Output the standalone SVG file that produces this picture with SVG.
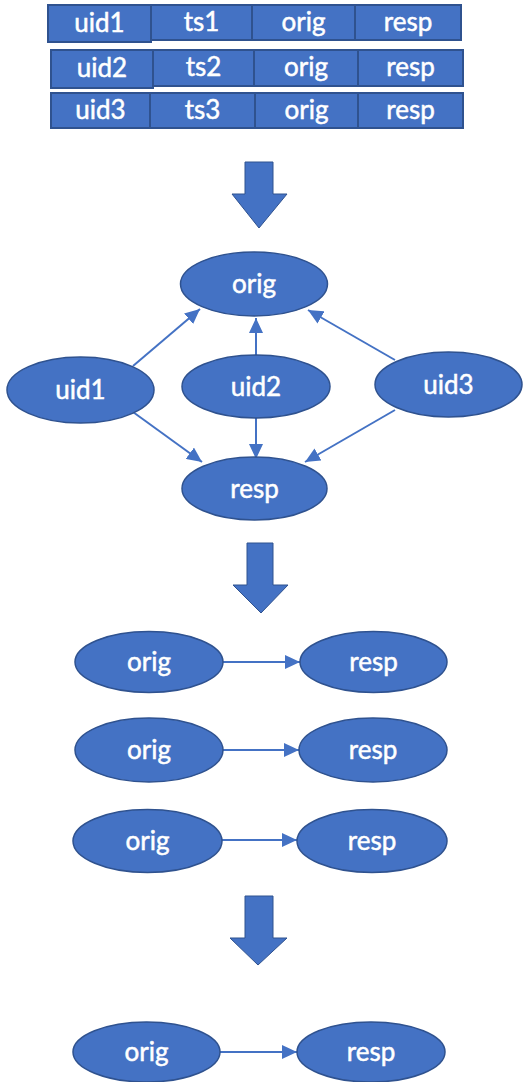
<svg xmlns="http://www.w3.org/2000/svg" width="523" height="1082" viewBox="0 0 523 1082">
<style>
.n{fill:#4472C4;stroke:#2F528F;stroke-width:1.5}
.c{fill:#4472C4;stroke:#2F528F;stroke-width:2}
.t{font-family:Lato,"Liberation Sans",sans-serif;font-size:26px;fill:#fff;stroke:#fff;stroke-width:0.5;text-anchor:middle}
.e{stroke:#4472C4;stroke-width:2;fill:none;marker-end:url(#ah)}
.big{fill:#4472C4;stroke:#2F528F;stroke-width:1}
</style>
<defs>
<marker id="ah" viewBox="0 0 15 14" refX="15" refY="7" markerWidth="15" markerHeight="14" markerUnits="userSpaceOnUse" orient="auto">
<path d="M0,0 L15,7 L0,14 z" fill="#4472C4"/>
</marker>
</defs>
<rect width="523" height="1082" fill="#fff"/>

<g id="table">
<g id="row1">
<rect class="c" x="151" y="5" width="101" height="35"/>
<rect class="c" x="252" y="5" width="103" height="35"/>
<rect class="c" x="355" y="5" width="106" height="35"/>
<rect class="c" x="48" y="5" width="103" height="37"/>
<text class="t" x="99.5" y="32">uid1</text>
<text class="t" x="201.5" y="31">ts1</text>
<text class="t" x="303.5" y="31">orig</text>
<text class="t" x="408" y="31">resp</text>
</g>
<g id="row2">
<rect class="c" x="153" y="50" width="101" height="36"/>
<rect class="c" x="254" y="50" width="104" height="36"/>
<rect class="c" x="358" y="50" width="105" height="36"/>
<rect class="c" x="51" y="50" width="102" height="38"/>
<text class="t" x="102" y="77">uid2</text>
<text class="t" x="203.5" y="76">ts2</text>
<text class="t" x="306" y="76">orig</text>
<text class="t" x="410.5" y="76">resp</text>
</g>
<g id="row3">
<rect class="c" x="51" y="93" width="99" height="35"/>
<rect class="c" x="150" y="93" width="105" height="35"/>
<rect class="c" x="255" y="93" width="103" height="35"/>
<rect class="c" x="358" y="93" width="105" height="35"/>
<text class="t" x="100.5" y="119">uid3</text>
<text class="t" x="202.5" y="119">ts3</text>
<text class="t" x="306.5" y="119">orig</text>
<text class="t" x="410.5" y="119">resp</text>
</g>
</g>

<g id="bigarrows">
<polygon id="arrow1" class="big" points="245,162 273,162 273,194 287,194 259,228 232,194 245,194"/>
<polygon id="arrow2" class="big" points="247,543 273,543 273,585 288,585 261,613 233,585 247,585"/>
<polygon id="arrow3" class="big" points="245,896 273,896 273,938 287,938 258,965 230,938 245,938"/>
</g>

<g id="connectors">
<line class="e" x1="133" y1="366" x2="200" y2="309"/>
<line class="e" x1="256" y1="355" x2="256" y2="318"/>
<line class="e" x1="395" y1="360" x2="308" y2="310"/>
<line class="e" x1="133" y1="412" x2="202" y2="462"/>
<line class="e" x1="256" y1="418" x2="256" y2="459"/>
<line class="e" x1="395" y1="410" x2="305" y2="462"/>
<line class="e" x1="223" y1="662" x2="300" y2="662"/>
<line class="e" x1="223" y1="750" x2="299" y2="750"/>
<line class="e" x1="222" y1="840" x2="297" y2="840"/>
<line class="e" x1="220" y1="1052" x2="297" y2="1052"/>
</g>

<g id="g-orig"><ellipse class="n" cx="254" cy="284" rx="73.5" ry="32"/><text class="t" x="254" y="293">orig</text></g>
<g id="g-uid1"><ellipse class="n" cx="80.5" cy="390" rx="73.5" ry="33"/><text class="t" x="80.5" y="399">uid1</text></g>
<g id="g-uid2"><ellipse class="n" cx="256" cy="386.5" rx="74" ry="31.5"/><text class="t" x="256" y="395.5">uid2</text></g>
<g id="g-uid3"><ellipse class="n" cx="448.5" cy="384.5" rx="73.5" ry="32.5"/><text class="t" x="448.5" y="393.5">uid3</text></g>
<g id="g-resp"><ellipse class="n" cx="254.5" cy="488.5" rx="72.5" ry="31.5"/><text class="t" x="254.5" y="497.5">resp</text></g>

<g id="r1-orig"><ellipse class="n" cx="149" cy="662" rx="74" ry="30.5"/><text class="t" x="149" y="671">orig</text></g>
<g id="r1-resp"><ellipse class="n" cx="373.5" cy="662" rx="73.5" ry="30.5"/><text class="t" x="373.5" y="671">resp</text></g>
<g id="r2-orig"><ellipse class="n" cx="149" cy="750" rx="74" ry="32"/><text class="t" x="149" y="759">orig</text></g>
<g id="r2-resp"><ellipse class="n" cx="373" cy="750" rx="74" ry="32"/><text class="t" x="373" y="759">resp</text></g>
<g id="r3-orig"><ellipse class="n" cx="147.5" cy="841" rx="74.5" ry="31.5"/><text class="t" x="147.5" y="850">orig</text></g>
<g id="r3-resp"><ellipse class="n" cx="372" cy="841" rx="75" ry="31.5"/><text class="t" x="372" y="850">resp</text></g>
<g id="r4-orig"><ellipse class="n" cx="146.5" cy="1052" rx="73.5" ry="30"/><text class="t" x="146.5" y="1061">orig</text></g>
<g id="r4-resp"><ellipse class="n" cx="371" cy="1052" rx="74" ry="30"/><text class="t" x="371" y="1061">resp</text></g>
</svg>
